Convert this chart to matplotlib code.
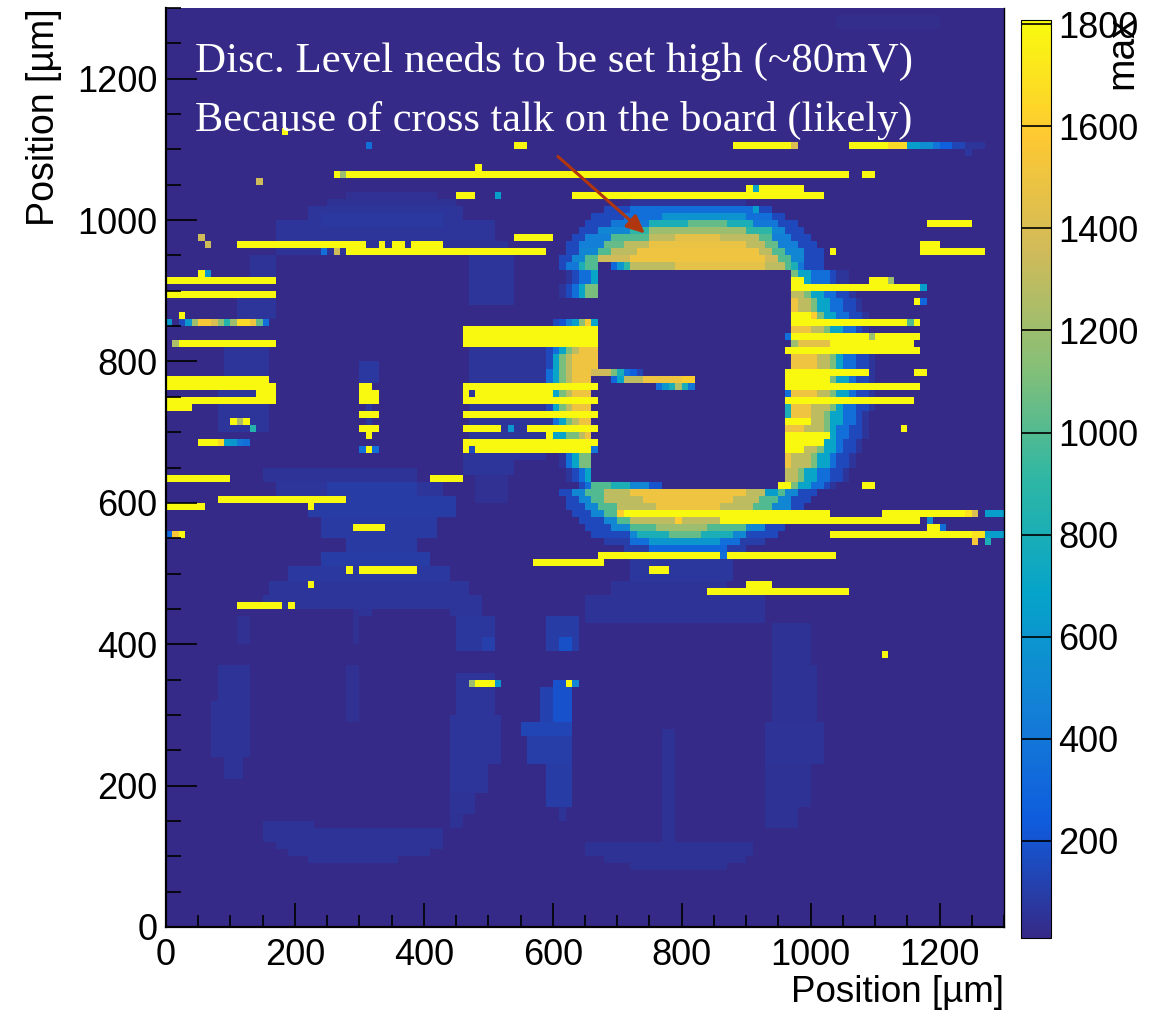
import numpy as np
import matplotlib
matplotlib.use('Agg')
import matplotlib.pyplot as plt
from matplotlib.colors import LinearSegmentedColormap
from matplotlib.ticker import MultipleLocator

plt.rcParams['font.family'] = ['Liberation Sans', 'DejaVu Sans']

x_label = 'Position [µm]'
y_label = 'Position [µm]'
z_label = 'max'
note_lines = ['Disc. Level needs to be set high (~80mV)',
              'Because of cross talk on the board (likely)']

bin_um = 10
n_bins = 130
z_min = 10
z_max = 1808
z_ticks = [200, 400, 600, 800, 1000, 1200, 1400, 1600, 1800]
streak_value = 1800

# faint ghost shapes: y0, y1, x0, x1, value
ghost_blocks = [
    (1030, 1040, 280, 420, 40), (1020, 1030, 250, 450, 50), (1000, 1020, 220, 460, 60),
    (970, 1000, 170, 510, 60), (950, 970, 170, 530, 55), (990, 1010, 240, 430, 80),
    (880, 950, 470, 540, 60), (920, 950, 130, 170, 55), (860, 890, 110, 170, 60),
    (780, 820, 90, 160, 60), (700, 780, 80, 160, 60), (770, 800, 300, 330, 80),
    (690, 760, 310, 320, 70), (770, 820, 470, 590, 60), (660, 770, 470, 590, 60),
    (640, 670, 460, 540, 60), (600, 640, 480, 530, 45),
    (630, 650, 150, 390, 55), (610, 630, 170, 430, 60), (610, 630, 250, 390, 90),
    (580, 610, 220, 450, 90), (550, 580, 240, 420, 85), (530, 550, 280, 390, 85),
    (510, 530, 240, 410, 90), (490, 510, 190, 440, 75), (470, 490, 160, 470, 60),
    (450, 470, 150, 490, 60), (440, 450, 440, 490, 60), (390, 440, 450, 510, 70),
    (390, 410, 490, 510, 105), (400, 440, 110, 130, 45), (440, 450, 300, 320, 55),
    (400, 450, 290, 300, 45),
    (390, 440, 590, 640, 90), (390, 410, 610, 630, 180),
    (240, 370, 80, 130, 55), (240, 320, 70, 130, 55), (210, 240, 90, 120, 55),
    (290, 370, 280, 300, 45),
    (140, 150, 150, 230, 55), (120, 140, 150, 430, 55), (110, 120, 170, 430, 55),
    (100, 110, 190, 410, 55), (90, 100, 220, 360, 55),
    (300, 360, 450, 510, 60), (230, 300, 440, 520, 65), (190, 230, 440, 500, 60),
    (160, 190, 440, 480, 55), (140, 160, 440, 460, 50),
    (290, 340, 580, 630, 120), (290, 350, 600, 630, 190), (270, 290, 550, 630, 130),
    (230, 270, 560, 630, 100), (170, 230, 590, 630, 90), (150, 170, 610, 620, 55),
    (470, 490, 690, 870, 55), (430, 470, 650, 930, 55), (490, 520, 720, 880, 70),
    (375, 430, 940, 1000, 50), (290, 375, 940, 1010, 50), (230, 290, 930, 1020, 55),
    (175, 230, 930, 1000, 50), (140, 175, 930, 980, 50),
    (120, 280, 770, 790, 50), (100, 120, 650, 910, 50), (90, 100, 680, 900, 50),
    (80, 90, 720, 870, 50), (1270, 1290, 1040, 1200, 30),
]

ring_rows = list(range(530, 1030, 20))
ring_levels = [60, 150, 350, 700, 1100, 1300, 1500]
ring_60_l = [740, 700, 680, 650, 640, 620, 610, 600, 590, 590, 590, 580, 580, 580, 590, 590, 600, 600, 610, 620, 640, 660, 680, 710, 750]
ring_60_r = [940, 980, 1000, 1030, 1040, 1060, 1070, 1080, 1090, 1090, 1100, 1100, 1100, 1100, 1100, 1090, 1090, 1080, 1070, 1060, 1040, 1020, 1000, 970, 930]
ring_150_l = [770, 720, 690, 660, 640, 630, 620, 610, 600, 600, 590, 590, 590, 590, 590, 600, 600, 610, 620, 630, 650, 670, 690, 720, 770]
ring_150_r = [910, 960, 990, 1010, 1030, 1050, 1060, 1070, 1080, 1080, 1090, 1090, 1090, 1090, 1090, 1080, 1080, 1070, 1060, 1040, 1030, 1010, 990, 960, 900]
ring_350_l = [790, 730, 700, 670, 650, 640, 620, 610, 610, 600, 600, 600, 590, 600, 600, 600, 610, 620, 630, 640, 660, 680, 710, 750, 830]
ring_350_r = [880, 940, 970, 1000, 1020, 1030, 1040, 1050, 1060, 1070, 1070, 1070, 1070, 1070, 1070, 1070, 1060, 1050, 1040, 1030, 1010, 990, 960, 920, 830]
ring_700_l = [830, 750, 710, 680, 660, 650, 630, 620, 610, 610, 600, 600, 600, 600, 610, 610, 620, 630, 640, 660, 680, 700, 740, 830, 830]
ring_700_r = [830, 910, 950, 980, 1000, 1010, 1030, 1040, 1040, 1050, 1050, 1060, 1060, 1050, 1050, 1050, 1040, 1030, 1020, 1000, 980, 960, 920, 830, 830]
ring_1100_l = [830, 800, 730, 700, 670, 660, 640, 630, 620, 620, 610, 610, 610, 610, 620, 620, 630, 640, 650, 670, 690, 720, 770, 830, 830]
ring_1100_r = [830, 850, 920, 950, 980, 990, 1010, 1020, 1030, 1030, 1040, 1040, 1040, 1040, 1040, 1030, 1020, 1010, 1000, 980, 960, 930, 880, 830, 830]
ring_1300_l = [0, 0, 760, 720, 690, 670, 660, 640, 640, 630, 620, 620, 620, 620, 630, 630, 640, 650, 670, 680, 710, 740, 0, 0, 0]
ring_1300_r = [0, 0, 890, 930, 960, 980, 1000, 1010, 1020, 1020, 1030, 1030, 1030, 1030, 1020, 1020, 1010, 1000, 990, 970, 940, 910, 0, 0, 0]
ring_1500_l = [0, 0, 0, 760, 720, 690, 670, 660, 650, 640, 630, 630, 630, 630, 640, 640, 650, 660, 680, 700, 720, 740, 0, 0, 0]
ring_1500_r = [0, 0, 0, 880, 920, 950, 970, 980, 990, 1000, 1000, 1010, 1010, 1010, 1000, 1000, 990, 980, 960, 940, 910, 910, 0, 0, 0]
ring_left = [ring_60_l, ring_150_l, ring_350_l, ring_700_l, ring_1100_l, ring_1300_l, ring_1500_l]
ring_right = [ring_60_r, ring_150_r, ring_350_r, ring_700_r, ring_1100_r, ring_1300_r, ring_1500_r]

# top and bottom of the ring, per 10 um row: y, x0, x1, value
ring_caps = [
    (1020, 720, 900, 60),
    (1010, 680, 940, 150), (1010, 720, 920, 350),
    (1000, 660, 960, 150), (1000, 710, 940, 350), (1000, 770, 900, 580),
    (990, 650, 980, 150), (990, 690, 950, 400), (990, 750, 910, 800), (990, 810, 870, 1050),
    (980, 640, 990, 150), (980, 670, 960, 500), (980, 720, 940, 900), (980, 750, 900, 1200),
    (970, 630, 1000, 150), (970, 650, 970, 450), (970, 690, 940, 1000), (970, 750, 920, 1300), (970, 790, 860, 1450),
    (960, 620, 1010, 150), (960, 640, 980, 450), (960, 680, 950, 1050), (960, 710, 930, 1300), (960, 750, 900, 1480),
    (950, 620, 1020, 150), (950, 640, 990, 500), (950, 670, 960, 1000), (950, 690, 940, 1300), (950, 730, 920, 1500),
    (940, 610, 1020, 150), (940, 630, 990, 500), (940, 650, 970, 1000), (940, 670, 950, 1350), (940, 720, 930, 1500),
    (930, 610, 1020, 150), (930, 620, 990, 400), (930, 640, 980, 800), (930, 650, 970, 1000), (930, 720, 960, 1300), (930, 790, 930, 1450),
    (610, 610, 1010, 150), (610, 630, 980, 500), (610, 650, 960, 1000), (610, 680, 940, 1300), (610, 720, 900, 1500),
    (600, 620, 1000, 150), (600, 640, 970, 500), (600, 660, 950, 1000), (600, 680, 920, 1300), (600, 740, 880, 1500),
    (590, 620, 990, 150), (590, 650, 970, 500), (590, 670, 940, 1000), (590, 700, 910, 1300), (590, 760, 860, 1500),
    (580, 630, 980, 150), (580, 660, 960, 500), (580, 680, 940, 1000),
    (570, 640, 970, 150), (570, 680, 940, 500), (570, 700, 920, 1000), (570, 720, 860, 1300),
    (560, 650, 960, 150), (560, 690, 930, 500), (560, 720, 900, 1000), (560, 760, 840, 1200),
    (550, 660, 950, 150), (550, 720, 900, 500), (550, 730, 880, 800), (550, 780, 830, 1050),
    (540, 680, 930, 100), (540, 720, 890, 350), (540, 750, 860, 600),
    (530, 710, 900, 100), (530, 750, 870, 300),
]

# rows the caps replace: y0, y1, x0, x1
cap_clear = [(530, 620, 580, 1100), (930, 1040, 580, 1100)]

# empty parts: y0, y1, x0, x1
empty_blocks = [
    (790, 930, 670, 970), (630, 790, 660, 960), (620, 630, 770, 950),
    (930, 940, 670, 690), (860, 890, 580, 670),
]

# single cells and short runs not at full scale: y, x0, x1, value
soft_cells = [
    (1100, 310, 320, 350), (1100, 970, 980, 1400), (1100, 1120, 1150, 1650),
    (1100, 1150, 1170, 650), (1100, 1170, 1190, 550), (1100, 1190, 1200, 380),
    (1100, 1200, 1220, 260), (1100, 1220, 1240, 130), (1100, 1240, 1270, 60),
    (1090, 1240, 1250, 70),
    (1060, 270, 280, 1200), (1050, 140, 150, 1350), (1040, 910, 920, 700),
    (1030, 510, 520, 650), (1010, 910, 920, 650), (970, 50, 60, 1350), (960, 60, 70, 1350),
    (950, 240, 250, 350), (950, 260, 270, 1350), (930, 690, 700, 300), (930, 700, 710, 600),
    (930, 710, 720, 900), (920, 60, 70, 600), (910, 1120, 1130, 1200), (900, 1170, 1180, 650),
    (880, 1170, 1180, 300), (860, 1000, 1010, 1600), (850, 1150, 1160, 1000),
    (850, 0, 10, 600), (850, 20, 30, 150), (850, 30, 40, 600), (850, 40, 50, 1200),
    (850, 50, 70, 1550), (850, 70, 80, 1400), (850, 80, 90, 1150), (850, 90, 100, 850),
    (850, 100, 110, 1200), (850, 110, 130, 1650), (850, 130, 140, 1500), (850, 140, 150, 1050),
    (850, 150, 160, 350),
    (850, 610, 620, 200), (850, 620, 630, 450), (850, 630, 640, 650), (850, 640, 650, 1150),
    (850, 650, 660, 1600), (850, 660, 670, 700),
    (830, 460, 470, 1600), (830, 960, 970, 350), (830, 1090, 1100, 1200),
    (820, 10, 20, 1250), (820, 970, 980, 1200), (820, 980, 1030, 1450),
    (780, 660, 690, 1350), (780, 690, 700, 1100), (780, 700, 710, 800), (780, 710, 720, 350),
    (780, 720, 730, 250), (780, 730, 740, 130),
    (770, 690, 700, 300), (770, 700, 710, 700), (770, 710, 740, 1300), (770, 740, 800, 1500),
    (770, 800, 820, 1600),
    (760, 760, 770, 350), (760, 770, 780, 600), (760, 780, 790, 800), (760, 790, 800, 1250),
    (760, 800, 810, 800), (760, 810, 820, 400),
    (750, 960, 970, 350), (730, 960, 970, 800), (720, 960, 970, 800),
    (710, 110, 120, 1250), (700, 130, 140, 850), (700, 530, 540, 600), (690, 600, 610, 700),
    (680, 80, 90, 1650), (680, 90, 100, 650), (680, 100, 110, 600), (680, 110, 120, 400),
    (680, 120, 130, 350),
    (670, 300, 310, 350), (670, 320, 330, 350), (670, 470, 480, 150), (670, 660, 670, 400),
    (620, 660, 690, 1000), (620, 690, 720, 800), (620, 720, 750, 500), (620, 750, 770, 200),
    (610, 930, 950, 650),
    (580, 700, 710, 1600), (580, 1240, 1250, 1700), (580, 1250, 1260, 1400), (580, 1270, 1300, 650),
    (570, 790, 800, 1600), (570, 1180, 1190, 500), (560, 1200, 1210, 350),
    (550, 0, 10, 300), (550, 10, 20, 1550), (550, 1250, 1270, 1700), (550, 1270, 1300, 650),
    (540, 1250, 1260, 1550), (540, 1270, 1280, 800), (520, 860, 870, 350),
    (340, 470, 480, 1200), (340, 510, 520, 600), (340, 630, 640, 500),
]

# full scale runs: y, x0, x1
yellow_runs = [
    (1120, 180, 190), (1100, 540, 560), (1100, 880, 970), (1100, 1060, 1120),
    (1070, 480, 490), (1060, 260, 270), (1060, 280, 1060), (1060, 1080, 1100),
    (1040, 900, 910), (1040, 920, 990), (1030, 450, 480), (1030, 630, 1020),
    (990, 1180, 1250), (970, 540, 600), (960, 110, 310), (960, 330, 340),
    (960, 350, 370), (960, 380, 430), (960, 1170, 1200), (950, 280, 590),
    (950, 1030, 1040), (950, 1170, 1270), (920, 50, 60), (910, 0, 170),
    (910, 970, 990), (910, 1090, 1120), (900, 970, 1170), (890, 0, 170),
    (880, 1160, 1170), (860, 20, 30), (860, 970, 1000), (850, 970, 1150),
    (850, 1160, 1170), (840, 460, 670), (830, 460, 670), (820, 460, 670),
    (830, 970, 1090), (830, 1100, 1170), (820, 1030, 1160), (820, 20, 170),
    (810, 960, 1170), (780, 960, 1090), (780, 1160, 1180), (770, 0, 160),
    (770, 960, 1030), (760, 0, 170), (760, 300, 320), (760, 460, 670),
    (760, 960, 1170), (750, 140, 170), (750, 300, 330), (750, 460, 470),
    (750, 480, 600), (740, 0, 170), (740, 300, 330), (740, 460, 670),
    (740, 960, 1160), (730, 0, 40), (720, 300, 330), (720, 460, 670),
    (710, 100, 110), (710, 120, 130), (710, 960, 1000), (700, 300, 330),
    (700, 460, 520), (700, 560, 670), (700, 1140, 1150), (690, 310, 320),
    (690, 590, 600), (690, 960, 1030), (680, 50, 80), (680, 460, 670),
    (680, 960, 1020), (670, 310, 320), (670, 460, 470), (670, 480, 660),
    (670, 960, 990), (630, 0, 100), (630, 410, 460), (620, 950, 970),
    (620, 1080, 1100), (600, 80, 280), (590, 0, 60), (590, 220, 230),
    (580, 710, 1030), (580, 1110, 1240), (570, 860, 1170), (560, 290, 340),
    (560, 1180, 1200), (550, 20, 30), (550, 1030, 1250), (520, 670, 860),
    (520, 870, 1040), (510, 570, 680), (500, 280, 290), (500, 300, 390),
    (500, 750, 780), (480, 220, 230), (480, 900, 940), (470, 840, 1060),
    (450, 110, 180), (450, 190, 200), (380, 1110, 1120), (340, 480, 510),
    (340, 620, 630),
]

# ROOT kBird palette
bird_r = [0.2082, 0.0592, 0.0780, 0.0232, 0.1802, 0.5301, 0.8186, 0.9956, 0.9764]
bird_g = [0.1664, 0.3599, 0.5041, 0.6419, 0.7178, 0.7492, 0.7328, 0.7862, 0.9832]
bird_b = [0.5293, 0.8684, 0.8385, 0.7914, 0.6425, 0.4662, 0.3499, 0.1968, 0.0539]
bird = LinearSegmentedColormap.from_list('bird', list(zip(bird_r, bird_g, bird_b)), N=255)


def fill(z, y0, y1, x0, x1, v):
    z[y0 // bin_um:y1 // bin_um, x0 // bin_um:x1 // bin_um] = v


z = np.full((n_bins, n_bins), float(z_min))
for y0, y1, x0, x1, v in ghost_blocks:
    fill(z, y0, y1, x0, x1, v)
for lev, lefts, rights in zip(ring_levels, ring_left, ring_right):
    for y, a, b in zip(ring_rows, lefts, rights):
        fill(z, y, y + 20, a, b, lev)
for y0, y1, x0, x1 in cap_clear:
    fill(z, y0, y1, x0, x1, z_min)
for y, x0, x1, v in ring_caps:
    fill(z, y, y + bin_um, x0, x1, v)
for y0, y1, x0, x1 in empty_blocks:
    fill(z, y0, y1, x0, x1, z_min)
for y, x0, x1, v in soft_cells:
    fill(z, y, y + bin_um, x0, x1, v)
for y, x0, x1 in yellow_runs:
    fill(z, y, y + bin_um, x0, x1, streak_value)

fig = plt.figure(figsize=(11.58, 10.10), dpi=100)
ax = fig.add_axes([166 / 1158, 83 / 1010, 838 / 1158, 919 / 1010])
cax = fig.add_axes([1021 / 1158, 72 / 1010, 30 / 1158, 918 / 1010])

edges = np.arange(n_bins + 1) * bin_um
mesh = ax.pcolormesh(edges, edges, z, cmap=bird, vmin=z_min, vmax=z_max)
ax.set_xlim(0, 1300)
ax.set_ylim(0, 1300)

ax.xaxis.set_major_locator(MultipleLocator(200))
ax.xaxis.set_minor_locator(MultipleLocator(50))
ax.yaxis.set_major_locator(MultipleLocator(200))
ax.yaxis.set_minor_locator(MultipleLocator(50))
ax.tick_params(axis='x', which='major', direction='in', length=17, width=1.2, labelsize=26, pad=8)
ax.tick_params(axis='x', which='minor', direction='in', length=9, width=1.2)
ax.tick_params(axis='y', which='major', direction='in', length=22, width=1.2, labelsize=26, pad=6)
ax.tick_params(axis='y', which='minor', direction='in', length=11, width=1.2)
ax.spines['left'].set_linewidth(1.6)
ax.spines['bottom'].set_linewidth(1.6)
ax.spines['top'].set_visible(False)
ax.spines['right'].set_linewidth(1.0)

ax.set_xlabel(x_label, loc='right', fontsize=26.5, labelpad=1)
ax.set_ylabel(y_label, loc='top', fontsize=27, labelpad=11)

cb = fig.colorbar(mesh, cax=cax, ticks=z_ticks)
cb.ax.tick_params(direction='in', length=21.6, width=1.2, labelsize=26, pad=5, right=True)
cb.outline.set_linewidth(0.8)
cb.ax.set_ylabel(z_label, loc='top', fontsize=28, rotation=90)
cb.ax.yaxis.set_label_coords(2.77, 1.005)

ax.text(45, 1224, note_lines[0], color='white', fontsize=31, family=['Liberation Serif'], va='center')
ax.text(45, 1141, note_lines[1], color='white', fontsize=30.5, family=['Liberation Serif'], va='center')
ax.annotate('', xy=(743, 981), xytext=(608, 1090),
            arrowprops=dict(arrowstyle='-|>,head_length=1.1,head_width=0.5', color='#b0360f', lw=2.2,
                            shrinkA=0, shrinkB=0))

fig.savefig('out.png', dpi=100)
